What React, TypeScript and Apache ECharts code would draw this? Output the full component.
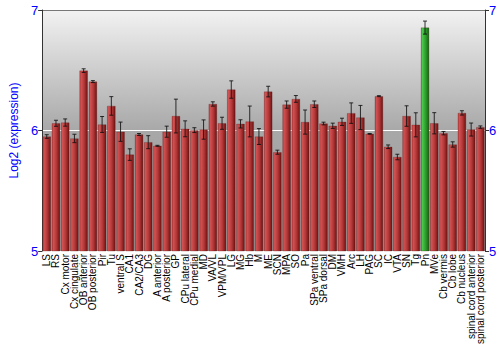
import React, { useEffect, useRef } from "react";
import * as echarts from "echarts";

const categories = [
  "LS", "RS", "Cx motor", "Cx cingulate", "OB anterior", "OB posterior", "Pir", "Tu",
  "ventral S", "CA1", "CA2/CA3", "DG", "A anterior", "A posterior", "GP", "CPu lateral",
  "CPu medial", "MD", "VA/VL", "VPM/VPL", "LG", "MG", "Hb", "M", "ME", "SCN", "MPA", "SO",
  "Pa", "SPa ventral", "SPa dorsal", "DM", "VMH", "Arc", "LH", "PAG", "SC", "IC", "VTA",
  "SN", "Tg", "Pn", "MVe", "Cb vermis", "Cb lobe", "Cb nucleus", "spinal cord anterior",
  "spinal cord posterior",
];

const values = [
  5.95, 6.06, 6.066, 5.934, 6.497, 6.406, 6.05, 6.204,
  5.99, 5.8, 5.967, 5.903, 5.873, 5.99, 6.12, 6.014,
  6.003, 6.008, 6.22, 6.06, 6.34, 6.055, 6.075, 5.95, 6.323, 5.82, 6.215, 6.262,
  6.07, 6.218, 6.058, 6.039, 6.072, 6.144, 6.108, 5.972, 6.285, 5.865, 5.78,
  6.12, 6.047, 6.854, 6.06, 5.978, 5.884, 6.146, 6.008,
  6.028,
];

const errors = [
  0.015, 0.025, 0.03, 0.035, 0.015, 0.008, 0.066, 0.077,
  0.08, 0.048, 0.008, 0.054, 0.004, 0.046, 0.14, 0.066,
  0.02, 0.08, 0.018, 0.05, 0.072, 0.034, 0.128, 0.066, 0.044, 0.017, 0.03, 0.028,
  0.1, 0.027, 0.011, 0.022, 0.03, 0.085, 0.1, 0.003, 0.004, 0.015, 0.023,
  0.085, 0.1, 0.054, 0.088, 0.014, 0.022, 0.018, 0.054,
  0.01,
];

const highlighted = "Pn";
const yTicks = [5, 6, 7];

const redGrad = new echarts.graphic.LinearGradient(0, 0, 1, 0, [
  { offset: 0, color: "#b83a3a" },
  { offset: 0.15, color: "#d25353" },
  { offset: 0.55, color: "#b53838" },
  { offset: 1, color: "#6e1212" },
]);
const greenGrad = new echarts.graphic.LinearGradient(0, 0, 1, 0, [
  { offset: 0, color: "#2f9f2f" },
  { offset: 0.15, color: "#4cc94c" },
  { offset: 0.55, color: "#2ea02e" },
  { offset: 1, color: "#116611" },
]);

export default function App() {
  const ref = useRef<HTMLDivElement>(null);
  useEffect(() => {
    if (!ref.current) return;
    const chart = echarts.init(ref.current, undefined, { renderer: "svg" });
    const barData = values.map((v, i) => ({
      value: v,
      itemStyle: { color: categories[i] === highlighted ? greenGrad : redGrad },
    }));
    const errData = values.map((v, i) => [i, v - errors[i], v + errors[i]]);
    const yAxisCommon = {
      type: "value",
      min: yTicks[0],
      max: yTicks[yTicks.length - 1],
      interval: 1,
      axisLine: { show: true, lineStyle: { color: "#333", width: 1 } },
      axisTick: { show: true, length: 4, lineStyle: { color: "#333" } },
      axisLabel: { color: "#0000ff", fontSize: 13, fontFamily: "Liberation Sans", margin: 4 },
    };
    chart.setOption({
      animation: false,
      grid: {
        left: 27,
        right: 15,
        top: 10,
        bottom: 99,
        show: true,
        borderWidth: 0,
        backgroundColor: new echarts.graphic.LinearGradient(0, 0, 0, 1, [
          { offset: 0, color: "#f2f2f2" },
          { offset: 0.5, color: "#a8a8a8" },
          { offset: 1, color: "#9a9a9a" },
        ]),
      },
      xAxis: {
        type: "category",
        data: categories,
        axisLine: { show: false },
        axisTick: { show: false },
        axisLabel: {
          rotate: 90,
          interval: 0,
          color: "#000",
          fontSize: 10,
          fontFamily: "Liberation Sans",
          margin: 3,
        },
      },
      yAxis: [
        {
          ...yAxisCommon,
          position: "left",
          name: "Log2 (expression)",
          nameLocation: "middle",
          nameGap: 14,
          nameTextStyle: { color: "#0000ff", fontSize: 12, fontFamily: "Liberation Sans" },
          splitLine: {
            show: true,
            lineStyle: { color: ["rgba(0,0,0,0)", "#ffffff", "#777777"], width: 1 },
          },
        },
        {
          ...yAxisCommon,
          position: "right",
          splitLine: { show: false },
        },
      ],
      series: [
        {
          type: "bar",
          data: barData,
          barCategoryGap: "10%",
          itemStyle: { borderColor: "rgba(90,20,20,0.5)", borderWidth: 0.5 },
        },
        {
          type: "custom",
          data: errData,
          z: 10,
          renderItem: (params: any, api: any) => {
            const x = api.value(0);
            const lo = api.coord([x, api.value(1)]);
            const hi = api.coord([x, api.value(2)]);
            const cap = 2;
            const style = { stroke: "#111", lineWidth: 1, opacity: 0.85 };
            return {
              type: "group",
              children: [
                { type: "line", shape: { x1: lo[0], y1: lo[1], x2: hi[0], y2: hi[1] }, style },
                { type: "line", shape: { x1: lo[0] - cap, y1: lo[1], x2: lo[0] + cap, y2: lo[1] }, style },
                { type: "line", shape: { x1: hi[0] - cap, y1: hi[1], x2: hi[0] + cap, y2: hi[1] }, style },
              ],
            };
          },
        },
      ],
    });
    return () => chart.dispose();
  }, []);
  return (
    <div
      ref={ref}
      style={{ position: "absolute", left: 0, top: 0, width: 500, height: 350 }}
    />
  );
}
